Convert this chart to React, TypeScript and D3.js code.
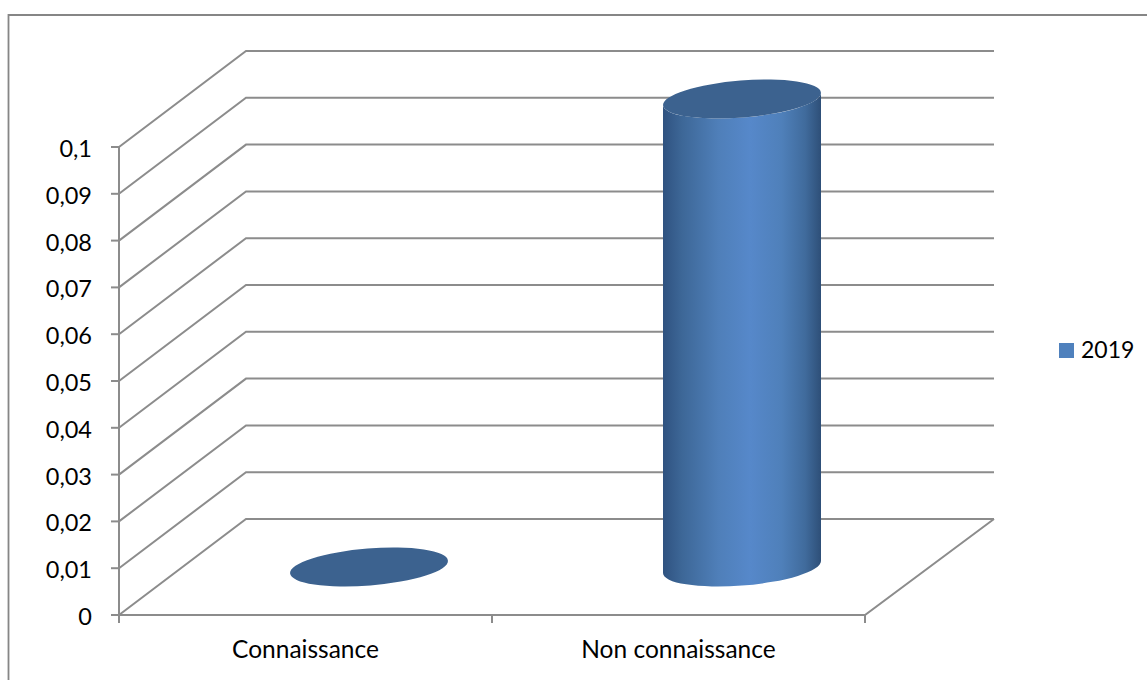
import React from "react";
import * as d3 from "d3";

const categories = ["Connaissance", "Non connaissance"];
const values = [0, 0.1];
const seriesName = "2019";
const tickValues = [0, 0.01, 0.02, 0.03, 0.04, 0.05, 0.06, 0.07, 0.08, 0.09, 0.1];

const WIDTH = 1147;
const HEIGHT = 680;
const GRID = "#8c8c8c";
const FONT = "Lato, 'Noto Sans', sans-serif";

// Oblique projection: the floor recedes by this offset from front to back.
const DEPTH_X = 127;
const DEPTH_Y = 96;

// Cylinder cross-section as a tilted ellipse.
const ELLIPSE = { a: 79.2, b: 18.5, tilt: -4.6, halfWidth: 79, rise: 6 };

const x = d3.scaleBand<string>().domain(categories).range([119, 865]);
const y = d3.scaleLinear().domain([0, 0.1]).range([615, 147]);
const tickLabel = (v: number) => String(v).replace(".", ",");

function cylinderPath(cx: number, yTop: number, yBase: number) {
  const { a, b, tilt, halfWidth: w, rise } = ELLIPSE;
  const arc = (sweep: number, px: number, py: number) =>
    `A${a},${b} ${tilt} 0 ${sweep} ${px},${py}`;
  return [
    `M${cx - w},${yTop + rise}`,
    `L${cx - w},${yBase + rise}`,
    arc(0, cx + w, yBase - rise),
    `L${cx + w},${yTop - rise}`,
    arc(1, cx - w, yTop + rise),
    "Z",
  ].join(" ");
}

function Cap({ cx, cy }: { cx: number; cy: number }) {
  return (
    <ellipse
      cx={cx}
      cy={cy}
      rx={ELLIPSE.a}
      ry={ELLIPSE.b}
      transform={`rotate(${ELLIPSE.tilt} ${cx} ${cy})`}
      fill="#3c628f"
    />
  );
}

export default function App() {
  const floorY = y(0);
  const left = x.range()[0];
  const right = x.range()[1];
  const backLeft = left + DEPTH_X;
  const backRight = backLeft + (right - left) + 2;
  const catTicks = [left, left + x.bandwidth(), right];

  return (
    <svg
      width={WIDTH}
      height={HEIGHT}
      style={{ position: "absolute", left: 0, top: 0, display: "block", background: "#fff" }}
    >
      <defs>
        <linearGradient id="cylinderShade" x1="0" x2="1" y1="0" y2="0">
          <stop offset="0" stopColor="#2f5280" />
          <stop offset="0.12" stopColor="#3d6797" />
          <stop offset="0.35" stopColor="#4f7fb9" />
          <stop offset="0.55" stopColor="#5688ca" />
          <stop offset="0.75" stopColor="#4f80ba" />
          <stop offset="0.9" stopColor="#406b9c" />
          <stop offset="1" stopColor="#2e4f78" />
        </linearGradient>
      </defs>

      {/* Chart frame */}
      <path d={`M8.5,${HEIGHT} V15 H${WIDTH}`} fill="none" stroke="#868686" strokeWidth={1.8} />

      {/* Side wall and back wall gridlines */}
      <g fill="none" stroke={GRID} strokeWidth={2}>
        {tickValues.map((t) => (
          <path
            key={t}
            d={`M${left},${y(t)} L${backLeft},${y(t) - DEPTH_Y} H${backRight}`}
          />
        ))}
        {/* Floor edges */}
        <path d={`M${backRight},${floorY - DEPTH_Y} L${right},${floorY} H${left}`} />
        {/* Value axis with tick marks */}
        <path d={`M${left},${y(0.1)} V${floorY + 8}`} />
        {tickValues.map((t) => (
          <path key={`tick-${t}`} d={`M${left - 8},${y(t)} H${left}`} />
        ))}
        {/* Category ticks */}
        {catTicks.map((c) => (
          <path key={c} d={`M${c},${floorY} V${floorY + 8}`} />
        ))}
      </g>

      {/* Value axis labels */}
      <g fontFamily={FONT} fontSize={23.5} fill="#000" textAnchor="end">
        {tickValues.map((t) => (
          <text key={t} x={92} y={y(t) + 10}>
            {tickLabel(t)}
          </text>
        ))}
      </g>

      {/* Category labels */}
      <g fontFamily={FONT} fontSize={24.5} fill="#000" textAnchor="middle">
        {categories.map((c) => (
          <text key={c} x={(x(c) as number) + x.bandwidth() / 2} y={658}>
            {c}
          </text>
        ))}
      </g>

      {/* Cylinders, sitting halfway into the depth of the floor */}
      {categories.map((c, i) => {
        const cx = (x(c) as number) + x.bandwidth() / 2 + DEPTH_X / 2;
        const yBase = y(0) - DEPTH_Y / 2;
        const yTop = y(values[i]) - DEPTH_Y / 2;
        return (
          <g key={c}>
            {values[i] > 0 && <path d={cylinderPath(cx, yTop, yBase)} fill="url(#cylinderShade)" />}
            <Cap cx={cx} cy={yTop} />
          </g>
        );
      })}

      {/* Legend */}
      <rect x={1059} y={343} width={15} height={15} fill="#4f81bd" />
      <text x={1081} y={358} fontFamily={FONT} fontSize={23} fill="#000">
        {seriesName}
      </text>
    </svg>
  );
}
